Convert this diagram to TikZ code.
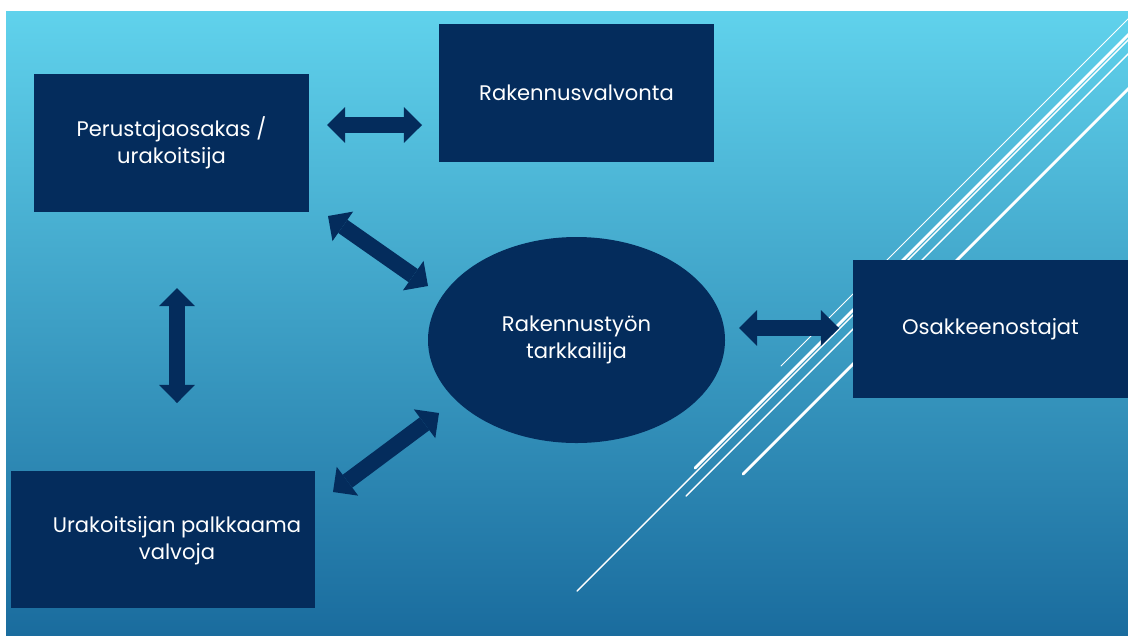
\documentclass[tikz,border=0pt]{standalone}
\usepackage{fontspec}
\setmainfont{Poppins}
\usetikzlibrary{arrows.meta,shapes.geometric}
\definecolor{slidetop}{RGB}{96,210,236}
\definecolor{slidebot}{RGB}{26,108,158}
\definecolor{navy}{RGB}{4,44,92}
\begin{document}
\begin{tikzpicture}[x={(0.03cm,0cm)},y={(0cm,-0.03cm)},
  box/.style={fill=navy,text=white,minimum width=8.25cm,minimum height=4.14cm,
    inner sep=0pt,align=center,font=\fontsize{18}{23}\selectfont},
  oval/.style={box,ellipse,minimum width=8.91cm,minimum height=6.18cm},
  link/.style={navy,line width=13.7pt,
    {Triangle[width=30.7pt,length=15.4pt,line width=0pt]}-{Triangle[width=30.7pt,length=15.4pt,line width=0pt]}},
  streak/.style={white,line cap=round}]

\useasboundingbox (0,0) rectangle (1128,635);
\fill[white] (0,0) rectangle (1128,635);
\shade[top color=slidetop,bottom color=slidebot] (6,11) rectangle (1128,635);

% white streaks
\begin{scope}
\clip (6,11) rectangle (1128,635);
\draw[streak,line width=0.8pt] (781,366) -- ++(420,-420);
\draw[streak,line width=2.4pt] (695,468) -- ++(500,-500);
\draw[streak,line width=1.2pt] (577,591) -- ++(600,-600);
\draw[streak,line width=1.2pt] (686,496) -- ++(500,-500);
\draw[streak,line width=2.4pt] (743,474) -- ++(450,-450);
\end{scope}

\node[box] (perustaja) at (171.5,143) {Perustajaosakas /\\urakoitsija};
\node[box] (valvonta) at (576.5,93) {Rakennusvalvonta};
\node[oval] (tarkkailija) at (576.5,340) {Rakennustyön\\tarkkailija};
\node[box] (ostajat) at (990.5,329) {Osakkeenostajat};
\node[box,minimum width=9.12cm,minimum height=4.11cm] (valvoja) at (163,539.5) {};
\node[text=white,align=center,font=\fontsize{18}{23}\selectfont] (valvojat) at (177,541)
  {Urakoitsijan palkkaama\\valvoja};

\coordinate (pv1) at (327,125);   \coordinate (pv2) at (422,125);
\coordinate (pt1) at (328,216);   \coordinate (pt2) at (428,286);
\coordinate (pu1) at (177,288);   \coordinate (pu2) at (177,403);
\coordinate (ut1) at (333,492);   \coordinate (ut2) at (439,413);
\coordinate (to1) at (739,328);   \coordinate (to2) at (839,328);

\draw[link] (pv1) -- (pv2);
\draw[link] (pt1) -- (pt2);
\draw[link] (pu1) -- (pu2);
\draw[link] (ut1) -- (ut2);
\draw[link] (to1) -- (to2);
\end{tikzpicture}
\end{document}
